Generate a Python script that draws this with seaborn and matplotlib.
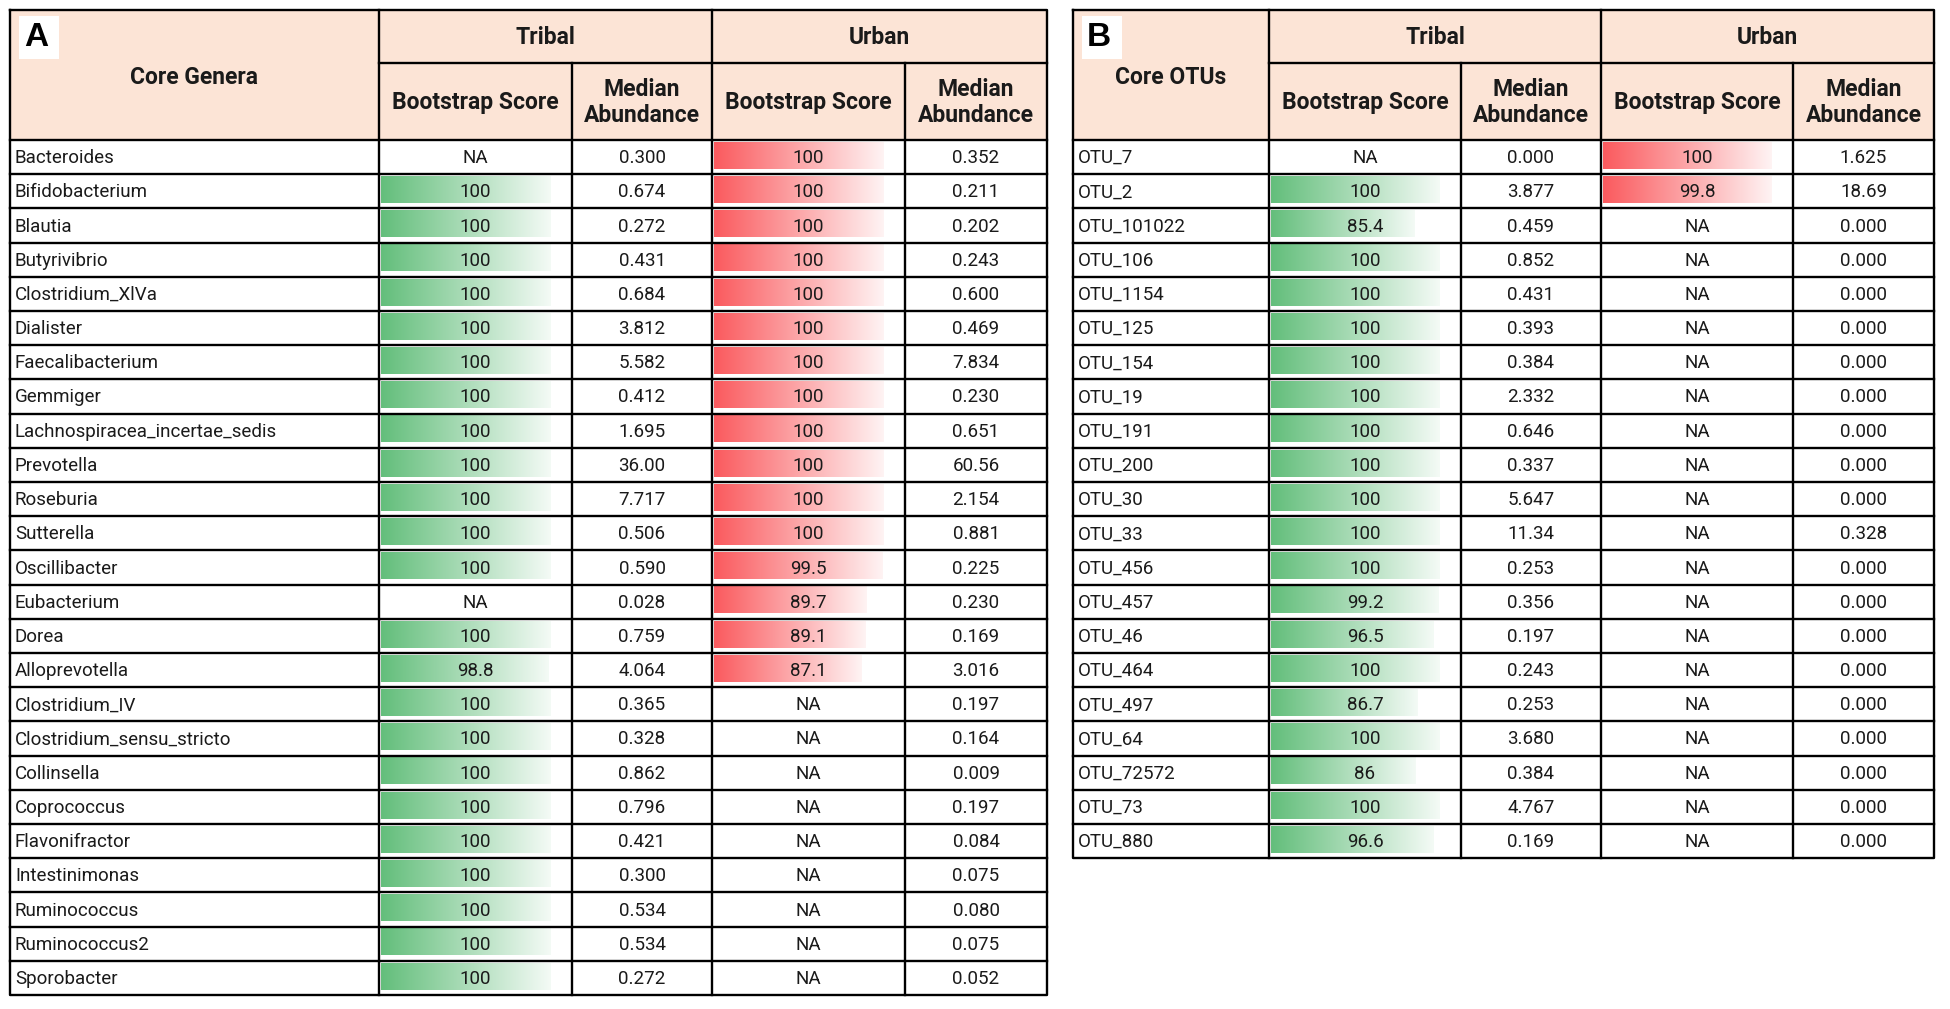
import numpy as np
import pandas as pd
import matplotlib
matplotlib.use("Agg")
import matplotlib.pyplot as plt
from matplotlib.patches import Rectangle
from matplotlib.colors import to_rgb
import seaborn as sns

# ---------------- data ----------------
genera = ["Bacteroides", "Bifidobacterium", "Blautia", "Butyrivibrio", "Clostridium_XlVa",
          "Dialister", "Faecalibacterium", "Gemmiger", "Lachnospiracea_incertae_sedis",
          "Prevotella", "Roseburia", "Sutterella", "Oscillibacter", "Eubacterium", "Dorea",
          "Alloprevotella", "Clostridium_IV", "Clostridium_sensu_stricto", "Collinsella",
          "Coprococcus", "Flavonifractor", "Intestinimonas", "Ruminococcus", "Ruminococcus2",
          "Sporobacter"]
gen_tribal_bs = [np.nan, 100, 100, 100, 100, 100, 100, 100, 100, 100, 100, 100, 100,
                 np.nan, 100, 98.8, 100, 100, 100, 100, 100, 100, 100, 100, 100]
gen_tribal_med = [0.300, 0.674, 0.272, 0.431, 0.684, 3.812, 5.582, 0.412, 1.695, 36.00,
                  7.717, 0.506, 0.590, 0.028, 0.759, 4.064, 0.365, 0.328, 0.862, 0.796,
                  0.421, 0.300, 0.534, 0.534, 0.272]
gen_urban_bs = [100, 100, 100, 100, 100, 100, 100, 100, 100, 100, 100, 100, 99.5, 89.7,
                89.1, 87.1, np.nan, np.nan, np.nan, np.nan, np.nan, np.nan, np.nan, np.nan,
                np.nan]
gen_urban_med = [0.352, 0.211, 0.202, 0.243, 0.600, 0.469, 7.834, 0.230, 0.651, 60.56,
                 2.154, 0.881, 0.225, 0.230, 0.169, 3.016, 0.197, 0.164, 0.009, 0.197,
                 0.084, 0.075, 0.080, 0.075, 0.052]

otus = ["OTU_7", "OTU_2", "OTU_101022", "OTU_106", "OTU_1154", "OTU_125", "OTU_154",
        "OTU_19", "OTU_191", "OTU_200", "OTU_30", "OTU_33", "OTU_456", "OTU_457", "OTU_46",
        "OTU_464", "OTU_497", "OTU_64", "OTU_72572", "OTU_73", "OTU_880"]
otu_tribal_bs = [np.nan, 100, 85.4, 100, 100, 100, 100, 100, 100, 100, 100, 100, 100,
                 99.2, 96.5, 100, 86.7, 100, 86, 100, 96.6]
otu_tribal_med = [0.000, 3.877, 0.459, 0.852, 0.431, 0.393, 0.384, 2.332, 0.646, 0.337,
                  5.647, 11.34, 0.253, 0.356, 0.197, 0.243, 0.253, 3.680, 0.384, 4.767,
                  0.169]
otu_urban_bs = [100, 99.8] + [np.nan] * 19
otu_urban_med = [1.625, 18.69, 0.000, 0.000, 0.000, 0.000, 0.000, 0.000, 0.000, 0.000,
                 0.000, 0.328, 0.000, 0.000, 0.000, 0.000, 0.000, 0.000, 0.000, 0.000,
                 0.000]

group_labels = ["Tribal", "Urban"]
sub_labels = ["Bootstrap Score", "Median\nAbundance"]

# ---------------- style ----------------
sns.set_theme(style="white")
plt.rcParams["font.family"] = ["Liberation Sans Narrow", "Roboto", "DejaVu Sans"]

W, H = 1950, 1009
HDR = "#FCE4D6"
GREEN = "#63BE7B"
RED = "#FA5A5E"
TXT = "#1A1A1A"
LW = 1.7
FS_DATA = 13.5
FS_HEAD = 16.5

fig = plt.figure(figsize=(W / 100, H / 100), dpi=100)
bg = fig.add_axes([0, 0, 1, 1], zorder=0)
bg.set_xlim(0, W); bg.set_ylim(H, 0); bg.axis("off")
top = fig.add_axes([0, 0, 1, 1], zorder=10)
top.set_xlim(0, W); top.set_ylim(H, 0); top.axis("off")
top.patch.set_alpha(0)


def fmt_med(v):
    return f"{v:.2f}" if v >= 10 else f"{v:.3f}"


def fmt_bs(v):
    return "NA" if np.isnan(v) else f"{v:g}"


def gradient_bars(ax, color):
    c0 = np.array(to_rgb(color))
    c1 = c0 + (1 - c0) * 0.93
    t = np.linspace(0, 1, 256)[:, None]
    grad = (c0 * (1 - t) + c1 * t)[None, :, :]
    for p in list(ax.patches):
        bb = p.get_bbox()
        if not (np.isfinite(bb.width) and bb.width > 0):
            continue
        im = ax.imshow(grad, extent=[bb.x0, bb.x1, bb.y1, bb.y0], aspect="auto",
                       zorder=p.get_zorder(), interpolation="bilinear")
        im.set_clip_path(p)
        p.set_facecolor("none")


def draw_panel(letter, title, names, t_bs, t_med, u_bs, u_med, xs):
    n = len(names)
    y0, y1, y2, rh = 10, 63, 140, 34.2
    yb = y2 + n * rh
    # header background
    bg.add_patch(Rectangle((xs[0], y0), xs[-1] - xs[0], y2 - y0, fc=HDR, ec="none"))
    bg.add_patch(Rectangle((xs[0], y2), xs[-1] - xs[0], yb - y2, fc="white", ec="none"))
    # letter box
    top.add_patch(Rectangle((xs[0] + 9, y0 + 6), 40, 43, fc="white", ec="none", zorder=3))
    top.text(xs[0] + 14, y0 + 28, letter, fontsize=24, fontweight="bold",
             family=["Liberation Sans", "DejaVu Sans"], va="center", ha="left",
             color="black", zorder=4)
    # grid lines
    kw = dict(color="black", lw=LW, solid_capstyle="projecting", zorder=5)
    top.plot([xs[0], xs[-1], xs[-1], xs[0], xs[0]], [y0, y0, yb, yb, y0], **kw)
    for i, x in enumerate(xs[1:-1], start=1):
        ys = y0 if i in (1, 3) else y1
        top.plot([x, x], [ys, yb], **kw)
    top.plot([xs[1], xs[-1]], [y1, y1], **kw)
    for r in range(n):
        top.plot([xs[0], xs[-1]], [y2 + r * rh, y2 + r * rh], **kw)
    # header text
    hk = dict(fontsize=FS_HEAD, fontweight="bold", color=TXT, ha="center", va="center",
              zorder=6)
    top.text((xs[0] + xs[1]) / 2, 77, title, **hk)
    for g, gl in enumerate(group_labels):
        a, b = xs[1 + 2 * g], xs[3 + 2 * g]
        top.text((a + b) / 2, (y0 + y1) / 2 + 1, gl, **hk)
        for s, sl in enumerate(sub_labels):
            c, d = xs[1 + 2 * g + s], xs[2 + 2 * g + s]
            top.text((c + d) / 2, (y1 + y2) / 2 + 1, sl, linespacing=1.12, **hk)
    # data text
    dk = dict(fontsize=FS_DATA, color=TXT, va="center", zorder=6)
    cols = [(t_bs, fmt_bs), (t_med, fmt_med), (u_bs, fmt_bs), (u_med, fmt_med)]
    for r, name in enumerate(names):
        yc = y2 + (r + 0.5) * rh + 1
        top.text(xs[0] + 5, yc, name, ha="left", **dk)
        for c, (vals, f) in enumerate(cols):
            top.text((xs[1 + c] + xs[2 + c]) / 2, yc, f(vals[r]), ha="center", **dk)
    # data bars via seaborn
    for c, vals, color in [(1, t_bs, GREEN), (3, u_bs, RED)]:
        x_a, x_b = xs[c] + 1.5, xs[c + 1]
        ia = fig.add_axes([x_a / W, 1 - yb / H, (x_b - x_a) / W, (n * rh) / H], zorder=2)
        df = pd.DataFrame({"name": names, "score": vals}).dropna()
        sns.barplot(data=df, x="score", y="name", order=names, orient="h", ax=ia,
                    color=color, saturation=1, width=0.79, edgecolor="none", linewidth=0,
                    errorbar=None)
        gradient_bars(ia, color)
        ia.set_xlim(0, 100 / 0.885)
        ia.set_ylim(n - 0.5 + 0.05, -0.5 + 0.05)
        ia.axis("off")
        ia.patch.set_alpha(0)


draw_panel("A", "Core Genera", genera, gen_tribal_bs, gen_tribal_med, gen_urban_bs,
           gen_urban_med, [10, 379, 572, 712, 905, 1047])
draw_panel("B", "Core OTUs", otus, otu_tribal_bs, otu_tribal_med, otu_urban_bs,
           otu_urban_med, [1073, 1269, 1461, 1601, 1793, 1934])

fig.savefig("out.png", dpi=100, facecolor="white")
